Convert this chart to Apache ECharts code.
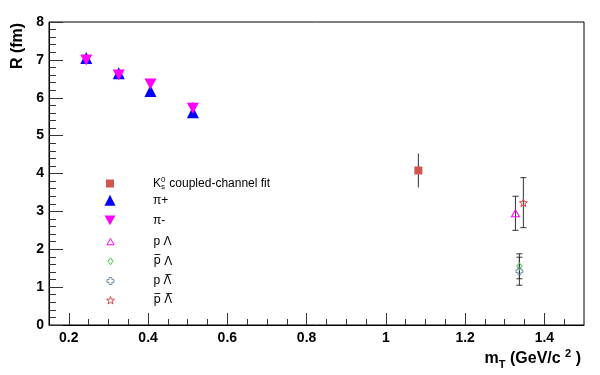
<!DOCTYPE html>
<html><head><meta charset="utf-8">
<script src="https://cdn.jsdelivr.net/npm/echarts@6/dist/echarts.min.js"></script>
<style>html,body{margin:0;padding:0;background:#fff}#c{width:600px;height:375px}</style>
</head><body><div id="c"></div>
<script>
// ---- data ----
const xMajorTicks = [0.2, 0.4, 0.6, 0.8, 1, 1.2, 1.4];
const xMinorTicks = [0.25, 0.3, 0.35, 0.45, 0.5, 0.55, 0.65, 0.7, 0.75, 0.85, 0.9, 0.95, 1.05, 1.1, 1.15, 1.25, 1.3, 1.35, 1.45];
const seriesNames = ['K0s', '\u03c0+', '\u03c0-', 'p \u039b', 'p\u0305 \u039b', 'p \u039b\u0305', 'p\u0305 \u039b\u0305'];

const k0sX = [1.082], k0sY = [4.08], k0sErr = [0.45];
const piPlusX = [0.244, 0.326, 0.406, 0.513], piPlusY = [7.05, 6.65, 6.18, 5.62], piPlusErr = [0.08, 0.08, 0.16, 0.14];
const piMinusX = [0.244, 0.326, 0.406, 0.513], piMinusY = [7.0, 6.6, 6.36, 5.72], piMinusErr = [0.08, 0.08, 0.12, 0.16];
const pLamX = [1.327], pLamY = [2.95], pLamErr = [0.45];
const apLamX = [1.337], apLamY = [1.55], apLamErr = [0.33];
const pALamX = [1.337], pALamY = [1.42], pALamErr = [0.37];
const apALamX = [1.347], apALamY = [3.23], apALamErr = [0.66];

// ---- styling ----
const FONT = '"Liberation Sans", Arial, Helvetica, sans-serif';
const zip = (xs, ys) => xs.map((x, i) => [x, ys[i]]);
const errData = (xs, ys, es, cap) => xs.map((x, i) => [x, ys[i], es[i], cap]);

const STAR = 'path://M10 0 L12.35 6.76 L19.51 6.91 L13.80 11.24 L15.88 18.09 L10 14 L4.12 18.09 L6.20 11.24 L0.49 6.91 L7.65 6.76 Z';
const DOWN = 'path://M0 0 L10 0 L5 9 Z';
const UPOPEN = 'path://M5 0 L10 9 L0 9 Z';
const CROSS = 'path://M3 0 L7 0 L7 3 L10 3 L10 7 L7 7 L7 10 L3 10 L3 7 L0 7 L0 3 L3 3 Z';
const DIAM = 'path://M5 0 L10 7 L5 14 L0 7 Z';

const defs = [
  {name: seriesNames[0], data: zip(k0sX, k0sY), err: errData(k0sX, k0sY, k0sErr, 0), symbol: 'rect', size: 8, color: '#d25550', open: false, lg: [8, 8]},
  {name: seriesNames[1], data: zip(piPlusX, piPlusY), err: errData(piPlusX, piPlusY, piPlusErr, 0), symbol: 'triangle', size: 12, color: '#0000ff', open: false, lg: [11, 11]},
  {name: seriesNames[2], data: zip(piMinusX, piMinusY), err: errData(piMinusX, piMinusY, piMinusErr, 0), symbol: DOWN, size: [12, 11], color: '#ff00ff', open: false, lg: [11, 10]},
  {name: seriesNames[3], data: zip(pLamX, pLamY), err: errData(pLamX, pLamY, pLamErr, 1), symbol: UPOPEN, size: [8, 7], color: '#ff00ff', open: true, lg: [7, 7]},
  {name: seriesNames[4], data: zip(apLamX, apLamY), err: errData(apLamX, apLamY, apLamErr, 1), symbol: DIAM, size: [5, 7], color: '#3ccc3c', open: true, lg: [5, 7]},
  {name: seriesNames[5], data: zip(pALamX, pALamY), err: errData(pALamX, pALamY, pALamErr, 1), symbol: CROSS, size: 7, color: '#7090b0', open: true, lg: [7, 7]},
  {name: seriesNames[6], data: zip(apALamX, apALamY), err: errData(apALamX, apALamY, apALamErr, 1), symbol: STAR, size: 8, color: '#e04848', open: true, lg: [8, 8]}
];

const errSeries = defs.map(d => ({
  type: 'custom', xAxisIndex: 0, yAxisIndex: 0, z: 1, silent: true,
  data: d.err, encode: {x: 0, y: 1},
  renderItem: (params, api) => {
    const x = api.value(0), y = api.value(1), e = api.value(2), cap = api.value(3);
    const t = api.coord([x, y + e]), b = api.coord([x, y - e]);
    const st = {stroke: '#333', lineWidth: 1};
    const ch = [{type: 'line', shape: {x1: t[0], y1: t[1], x2: b[0], y2: b[1]}, style: st}];
    if (cap) {
      ch.push({type: 'line', shape: {x1: t[0] - 3, y1: t[1], x2: t[0] + 3, y2: t[1]}, style: st});
      ch.push({type: 'line', shape: {x1: b[0] - 3, y1: b[1], x2: b[0] + 3, y2: b[1]}, style: st});
    }
    return {type: 'group', children: ch};
  }
}));

const markerSeries = defs.map(d => ({
  type: 'scatter', name: d.name, xAxisIndex: 0, yAxisIndex: 0, z: 3,
  data: d.data, symbol: d.symbol, symbolSize: d.size,
  itemStyle: d.open ? {color: 'rgba(255,255,255,0)', borderColor: d.color, borderWidth: 1, opacity: 1}
                    : {color: d.color, borderWidth: 0, opacity: 1},
  emphasis: {disabled: true}
}));

// legend label: wrap each word; words carrying a combining overline use DejaVu Sans
const richLabel = name => {
  if (name === 'K0s') return '{k|K}{sup|0}{sub|s}{k| coupled-channel fit}';
  return name.split(' ').map(w => w.indexOf('\u0305') >= 0 ? '{o|' + w + '}' : '{k|' + w + '}').join('{k| }');
};

const rowY = [180, 199.7, 219.4, 239.1, 258.8, 278.5, 298.2];
const legends = defs.map((d, i) => {
  const w = d.lg[0], h = d.lg[1];
  return {
    data: [d.name], orient: 'vertical', padding: 0, selectedMode: false,
    left: 110 - w / 2, top: rowY[i] - h / 2,
    itemWidth: w, itemHeight: h,
    itemStyle: d.open ? {borderWidth: 1, borderColor: d.color, color: 'rgba(255,255,255,0)'} : {borderWidth: 0, color: d.color},
    formatter: richLabel,
    textStyle: {
      color: '#000', fontFamily: FONT, fontSize: 12,
      padding: [0, 0, 0, 153 - (110 + w / 2 + 5)],
      rich: {
        k: {fontFamily: FONT, fontSize: 12, color: '#000', lineHeight: 15},
        o: {fontFamily: '"DejaVu Sans"', fontSize: 11.5, color: '#000', lineHeight: 15},
        sup: {fontFamily: FONT, fontSize: 8, color: '#000', lineHeight: 8, verticalAlign: 'top', width: 0.01},
        sub: {fontFamily: FONT, fontSize: 8, color: '#000', lineHeight: 8, verticalAlign: 'bottom', width: 5}
      }
    }
  };
});

const chart = echarts.init(document.getElementById('c'), null, {renderer: 'canvas'});
chart.setOption({
  animation: false,
  backgroundColor: '#fff',
  grid: {left: 49, right: 16, top: 22, bottom: 50, show: true, borderColor: '#000', borderWidth: 1, backgroundColor: 'rgba(0,0,0,0)'},
  xAxis: [
    {type: 'value', min: 0.15, max: 1.5, position: 'bottom',
     axisLine: {show: true, onZero: false, lineStyle: {color: '#000', width: 1}},
     axisTick: {show: true, inside: true, length: 12, customValues: xMajorTicks, lineStyle: {color: '#333'}},
     axisLabel: {show: true, customValues: xMajorTicks, margin: 6, color: '#000', fontWeight: 'bold', fontSize: 14, fontFamily: FONT},
     splitLine: {show: false}},
    {type: 'value', min: 0.15, max: 1.5, position: 'bottom',
     axisLine: {show: false},
     axisTick: {show: true, inside: true, length: 6, customValues: xMinorTicks, lineStyle: {color: '#333'}},
     axisLabel: {show: false}, splitLine: {show: false}}
  ],
  yAxis: {type: 'value', min: 0, max: 8, interval: 1,
    axisLine: {show: true, lineStyle: {color: '#000', width: 1}},
    axisTick: {show: true, inside: true, length: 14, lineStyle: {color: '#333'}},
    minorTick: {show: true, splitNumber: 5, length: 7, lineStyle: {color: '#333'}},
    axisLabel: {margin: 5, color: '#000', fontWeight: 'bold', fontSize: 14, fontFamily: FONT},
    splitLine: {show: false}},
  legend: legends,
  graphic: [
    {type: 'text', x: 18, y: 46, rotation: Math.PI / 2, z: 10,
     style: {text: 'R (fm)', fill: '#000', font: 'bold 16px ' + FONT, align: 'center', verticalAlign: 'middle'}},
    {type: 'text', x: 581, y: 359, z: 10,
     style: {text: '{m|m}{s|T}{m| (GeV/c }{p|2}{m| )}', align: 'right', verticalAlign: 'middle', fill: '#000',
       rich: {
         m: {font: 'bold 16px ' + FONT, fill: '#000', lineHeight: 22},
         s: {font: 'bold 11px ' + FONT, fill: '#000', lineHeight: 11, verticalAlign: 'bottom'},
         p: {font: 'bold 11px ' + FONT, fill: '#000', lineHeight: 11, verticalAlign: 'top'}
       }}}
  ],
  series: errSeries.concat(markerSeries)
});
</script></body></html>
